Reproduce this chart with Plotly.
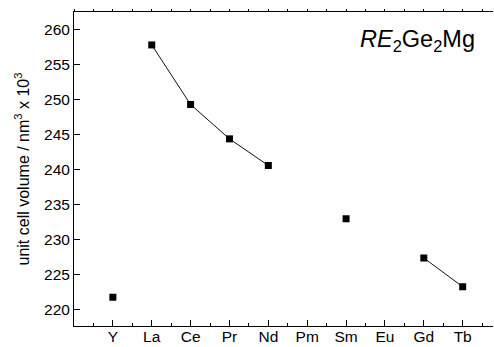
import plotly.graph_objects as go

categories = ["Y", "La", "Ce", "Pr", "Nd", "Pm", "Sm", "Eu", "Gd", "Tb"]
volumes = [221.8, 257.8, 249.3, 244.4, 240.6, None, 233.0, None, 227.4, 223.3]
isolated = ["Y", "Sm"]
y_ticks = [220, 225, 230, 235, 240, 245, 250, 255, 260]

xs = list(range(len(categories)))
line_y = [None if c in isolated else v for c, v in zip(categories, volumes)]

font = "Liberation Sans, Arial, sans-serif"
fig = go.Figure()
fig.add_trace(go.Scatter(x=xs, y=line_y, mode="lines",
                         line=dict(color="#111111", width=1), connectgaps=False,
                         hoverinfo="skip"))
fig.add_trace(go.Scatter(x=xs, y=volumes, mode="markers",
                         marker=dict(symbol="square", size=7, color="black")))
# invisible trace for top axis
fig.add_trace(go.Scatter(x=[xs[0]], y=[volumes[0]], xaxis="x2", mode="markers",
                         marker=dict(opacity=0), hoverinfo="skip"))

xr = [-1, 9.78]
fig.update_layout(
    width=494, height=347,
    margin=dict(l=74, r=1, t=12, b=21),
    paper_bgcolor="white", plot_bgcolor="white",
    showlegend=False,
    font=dict(family=font, size=15.5, color="black"),
    xaxis=dict(range=xr, tickvals=xs, ticktext=categories,
               showline=True, linecolor="black", linewidth=1,
               ticks="inside", ticklen=6, tickcolor="black",
               ticklabelstandoff=-4,
               showgrid=False, zeroline=False, automargin=False,
               minor=dict(tickvals=[i - 0.5 for i in range(len(categories) + 1)],
                          ticks="inside", ticklen=3, tickcolor="black")),
    xaxis2=dict(range=xr, overlaying="x", side="top",
                tickvals=[i * 0.5 - 1 for i in range(22)],
                showticklabels=False, showline=True, linecolor="black", linewidth=1,
                ticks="outside", ticklen=2, tickcolor="black",
                showgrid=False, zeroline=False),
    yaxis=dict(range=[217.7, 262.5], tickvals=y_ticks,
               showline=True, linecolor="black", linewidth=1,
               ticks="inside", ticklen=6, tickcolor="black",
               showgrid=False, zeroline=False, automargin=False,
               title=dict(text="unit cell volume / nm<sup>3</sup> x 10<sup>3</sup>",
                          font=dict(size=16), standoff=10)),
    annotations=[dict(text="<i>RE</i><sub>2</sub>Ge<sub>2</sub>Mg",
                      x=7.84, y=258.4, xref="x", yref="y",
                      showarrow=False, font=dict(size=23.5, color="black"))],
)
fig.write_html("out.html", config={"displayModeBar": False},
               post_script="document.body.style.margin='0';document.body.style.overflow='hidden';")
